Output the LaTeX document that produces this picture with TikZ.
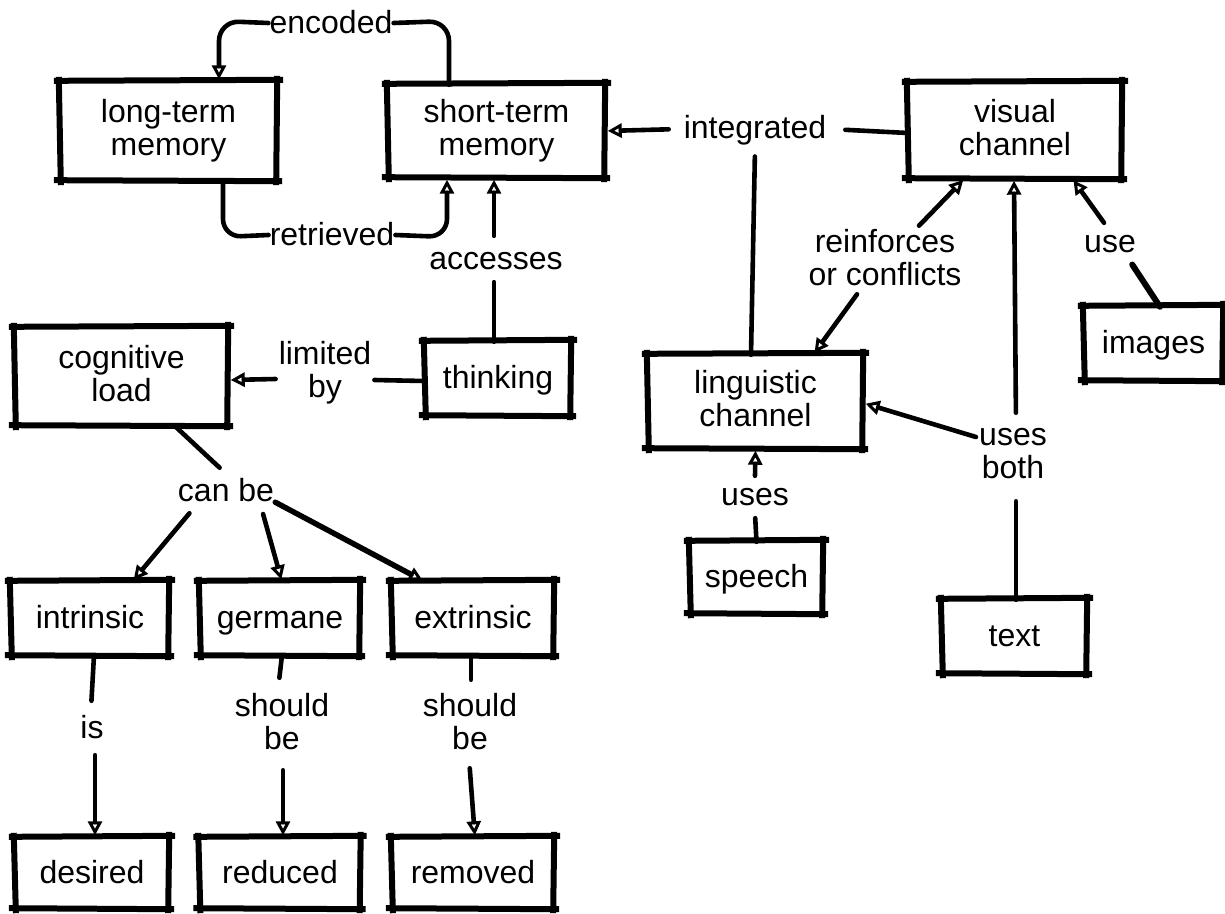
\documentclass[tikz,border=0pt]{standalone}
\usepackage{fontspec}
\setmainfont{Liberation Sans}
\usetikzlibrary{arrows.meta}

% line strut: keeps every text line the same height and depth
\newcommand\linestrut{\rule[-6pt]{0pt}{32pt}}

\tikzset{
  every node/.style={font=\fontsize{32}{33}\selectfont, align=center,
    execute at begin node=\linestrut, execute at end node=\linestrut},
  concept/.style={inner sep=0pt},
  lbl/.style={inner sep=3pt},
  link/.style={line width=4.6pt, line cap=round, line join=round},
  arr/.style={link, shorten >=2.5pt,
    -{Triangle[open, length=14pt, width=14pt, line width=3pt]}},
  boxline/.style={line width=6pt, line cap=rect},
}

% a concept box with a hand-drawn border: name, x, y, width, height, text
\newcommand\conceptbox[6]{%
  \node[concept, minimum width=#4pt, minimum height=#5pt] (#1) at (#2,#3) {#6};
  \draw[boxline] ([shift={(-3pt,1pt)}]#1.north west) -- ([shift={(3pt,2pt)}]#1.north east);
  \draw[boxline] ([shift={(0pt,3pt)}]#1.north east) -- ([shift={(-1pt,-2pt)}]#1.south east);
  \draw[boxline] ([shift={(2pt,-1pt)}]#1.south east) -- ([shift={(-3pt,0pt)}]#1.south west);
  \draw[boxline] ([shift={(1pt,-2pt)}]#1.south west) -- ([shift={(-1pt,2pt)}]#1.north west);
}

\begin{document}
\begin{tikzpicture}[x=1pt, y=-1pt]
\useasboundingbox[fill=white] (0,0) rectangle (1225,913);

% concepts
\conceptbox{ltm}{168.5}{131}{217}{98}{long-term\\memory}
\conceptbox{stm}{496.5}{131}{217}{92}{short-term\\memory}
\conceptbox{vis}{1015}{130.5}{214}{95}{visual\\channel}
\conceptbox{lin}{755.5}{401.5}{215}{93}{linguistic\\channel}
\conceptbox{cog}{121.5}{376.5}{213}{97}{cognitive\\load}
\conceptbox{thk}{498}{378.5}{146}{73}{thinking}
\conceptbox{img}{1153.5}{343.5}{139}{73}{images}
\conceptbox{sp}{756.5}{577.5}{133}{71}{speech}
\conceptbox{txt}{1014.5}{636.5}{145}{73}{text}
\conceptbox{intr}{90}{618.5}{158}{73}{intrinsic}
\conceptbox{germ}{280}{618.5}{160}{73}{germane}
\conceptbox{extr}{473}{618.5}{162}{73}{extrinsic}
\conceptbox{des}{92}{873}{154}{70}{desired}
\conceptbox{red}{280}{873}{161}{70}{reduced}
\conceptbox{rem}{473}{873}{162}{70}{removed}

% link phrases
\node[lbl, inner sep=1pt] (enc) at (331,23) {encoded};
\node[lbl, inner sep=1pt] (ret) at (332,235) {retrieved};
\node[lbl] (int) at (755,129) {integrated};
\node[lbl] (acc) at (496,259) {accesses};
\node[lbl] (lim) at (325,373) {limited\\by};
\node[lbl] (rei) at (885,260) {reinforces\\or conflicts};
\node[lbl] (use) at (1110,242) {use};
\node[lbl] (ub) at (1013,456) {uses\\both};
\node[lbl] (uses) at (755,495) {uses};
\node[lbl] (can) at (226,491) {can be};
\node[lbl] (is) at (92,728) {is};
\node[lbl] (sb1) at (282,724) {should\\be};
\node[lbl] (sb2) at (470,724) {should\\be};

% memory loop
\draw[link, rounded corners=20pt] ([xshift=-47.5pt]stm.north) -- (449,21) -- (enc.east);
\draw[arr, rounded corners=20pt] (enc.west) -- (219,21) -- ([xshift=50.5pt]ltm.north);
\draw[link, rounded corners=18pt] ([xshift=54.5pt]ltm.south) -- (223,237) -- (ret.west);
\draw[arr, rounded corners=18pt] (ret.east) -- (447,237) -- ([xshift=-49.5pt]stm.south);

% thinking
\draw[link, shorten >=4pt] ([xshift=-4pt]thk.north) -- ([xshift=-2pt]acc.south);
\draw[arr, shorten <=4pt] ([xshift=-2pt]acc.north) -- ([xshift=-2.5pt]stm.south);
\draw[link] ([yshift=-2.5pt]thk.west) -- ([yshift=-7pt]lim.east);
\draw[arr] ([yshift=-6pt]lim.west) -- ([yshift=-3.5pt]cog.east);

% channels
\draw[arr, shorten <=12pt] (int.west) -- (stm.east);
\draw[link, shorten >=16pt] ([yshift=-2.5pt]vis.west) -- (int.east);
\draw[link, shorten >=8pt] ([xshift=-4.5pt]lin.north) -- (int.south);
\draw[arr] ([xshift=34pt]rei.north) -- ([xshift=-50pt]vis.south);
\draw[arr] ([xshift=-28pt]rei.south) -- ([xshift=57.5pt]lin.north);
\draw[arr] ([xshift=-6pt]use.north) -- ([xshift=57pt]vis.south);
\draw[link, line width=6pt, shorten <=4pt] ([xshift=20pt]use.south) -- ([xshift=6.5pt]img.north);
\draw[arr] ([yshift=19pt]ub.west) -- ([yshift=-1.5pt]lin.east);
\draw[arr, shorten <=12pt] ([xshift=3pt]ub.north) -- ([xshift=-1pt]vis.south);
\draw[link, shorten >=14pt] ([xshift=1.5pt]txt.north) -- ([xshift=3pt]ub.south);
\draw[link, shorten >=4pt] (sp.north) -- (uses.south);
\draw[arr] (uses.north) -- (lin.south);

% kinds of cognitive load
\draw[link, shorten >=6pt] ([xshift=52.5pt]cog.south) -- ([xshift=-2pt]can.north);
\draw[arr, shorten <=4pt] ([xshift=-34pt]can.south) -- ([xshift=42pt]intr.north);
\draw[arr, shorten <=4pt] ([xshift=36pt]can.south) -- ([xshift=2pt]germ.north);
\draw[arr, line width=5.5pt] ([xshift=-2pt,yshift=8pt]can.south east) -- ([xshift=-48pt]extr.north);
\draw[link, shorten >=8pt] ([xshift=4pt]intr.south) -- ([xshift=-1pt]is.north);
\draw[arr, shorten <=8pt] ([xshift=3pt]is.south) -- ([xshift=3pt]des.north);
\draw[link, shorten >=12pt] ([xshift=2pt]germ.south) -- ([xshift=-4pt]sb1.north);
\draw[arr, shorten <=12pt] ([xshift=1pt]sb1.south) -- ([xshift=3pt]red.north);
\draw[link, shorten >=10pt] ([xshift=-2pt]extr.south) -- ([xshift=1pt]sb2.north);
\draw[arr, shorten <=10pt] ([xshift=-1pt]sb2.south) -- ([xshift=2pt]rem.north);
\end{tikzpicture}
\end{document}
